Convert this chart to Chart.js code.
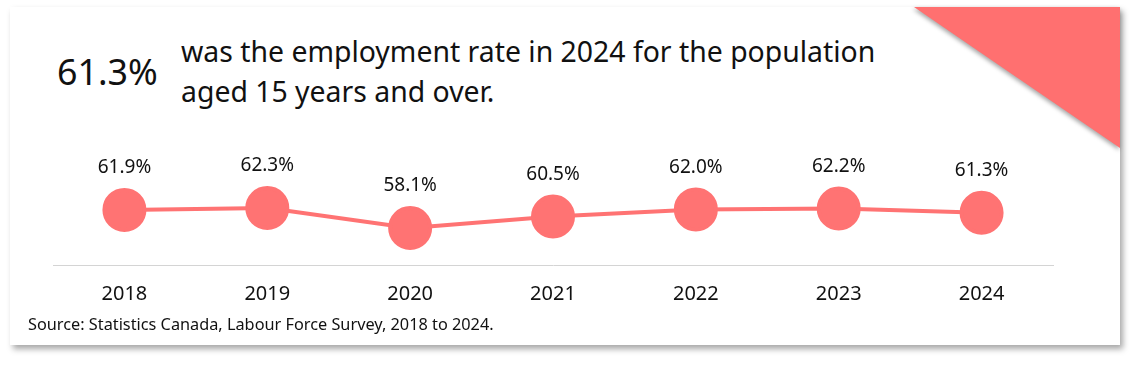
<!DOCTYPE html>
<html>
<head>
<meta charset="utf-8">
<script src="https://cdn.jsdelivr.net/npm/chart.js@4/dist/chart.umd.min.js"></script>
<style>
    html, body { margin: 0; padding: 0; background: #ffffff; }
    body { width: 1140px; height: 367px; position: relative; overflow: hidden; font-family: "Noto Sans", sans-serif; color: #111; }
    .card {
        position: absolute; left: 10px; top: 7px; width: 1110px; height: 338px;
        background: #fff; box-shadow: 3px 4px 6px rgba(0,0,0,0.35);
    }
    .corner-wrap { position: absolute; left: 914px; top: 7px; width: 206px; height: 141px; filter: drop-shadow(-1px 2px 2px rgba(0,0,0,0.35)); }
    .corner {
        width: 100%; height: 100%;
        background: #ff7070; clip-path: polygon(0 0, 100% 0, 100% 100%);
    }
    .big { position: absolute; left: 57px; top: 49px; font-size: 35.8px; line-height: 44px; }
    .head { position: absolute; left: 181px; top: 31px; font-size: 28.4px; line-height: 40px; }
    .source { position: absolute; left: 28px; top: 313px; font-size: 16.3px; }
    #chart { position: absolute; left: 0; top: 0; }
</style>
</head>
<body>
<div class="card"></div>
<div class="corner-wrap"><div class="corner"></div></div>
<div class="big">61.3%</div>
<div class="head">was the employment rate in 2024 for the population<br>aged 15 years and over.</div>
<canvas id="chart" width="1140" height="367"></canvas>
<div class="source">Source: Statistics Canada, Labour Force Survey, 2018 to 2024.</div>
<script>
// ─── Data ─────────────────────────────────────────────────────────
const years = ['2018', '2019', '2020', '2021', '2022', '2023', '2024'];
const employmentRate = [61.9, 62.3, 58.1, 60.5, 62.0, 62.2, 61.3];

const RED = '#ff7373';

// draws "61.9%" style labels above each point
const valueLabels = {
    id: 'valueLabels',
    afterDatasetsDraw(chart) {
        const ctx = chart.ctx;
        const meta = chart.getDatasetMeta(0);
        ctx.save();
        ctx.font = '19px "Noto Sans"';
        ctx.fillStyle = '#111';
        ctx.textAlign = 'center';
        ctx.textBaseline = 'middle';
        meta.data.forEach((pt, i) => {
            ctx.fillText(employmentRate[i].toFixed(1) + '%', pt.x, pt.y - 42);
        });
        ctx.restore();
    }
};

new Chart(document.getElementById('chart'), {
    type: 'line',
    data: {
        labels: years,
        datasets: [{
            data: employmentRate,
            borderColor: RED,
            borderWidth: 4,
            backgroundColor: RED,
            pointBackgroundColor: RED,
            pointBorderColor: RED,
            pointRadius: 20,
            pointHoverRadius: 20,
            tension: 0,
        }]
    },
    options: {
        responsive: false,
        animation: false,
        layout: { padding: { left: 53, right: 87, top: 170, bottom: 57 } },
        plugins: { legend: { display: false }, tooltip: { enabled: false } },
        scales: {
            x: {
                offset: true,
                grid: { display: false, drawTicks: false },
                border: { display: true, color: '#d4d4d4', width: 1 },
                ticks: { color: '#111', font: { family: 'Noto Sans', size: 20 }, padding: 17 },
                afterFit(scale) { scale.height = 45; }
            },
            y: {
                display: false,
                min: 50.3,
                max: 70.3,
            }
        }
    },
    plugins: [valueLabels]
});
</script>
</body>
</html>
